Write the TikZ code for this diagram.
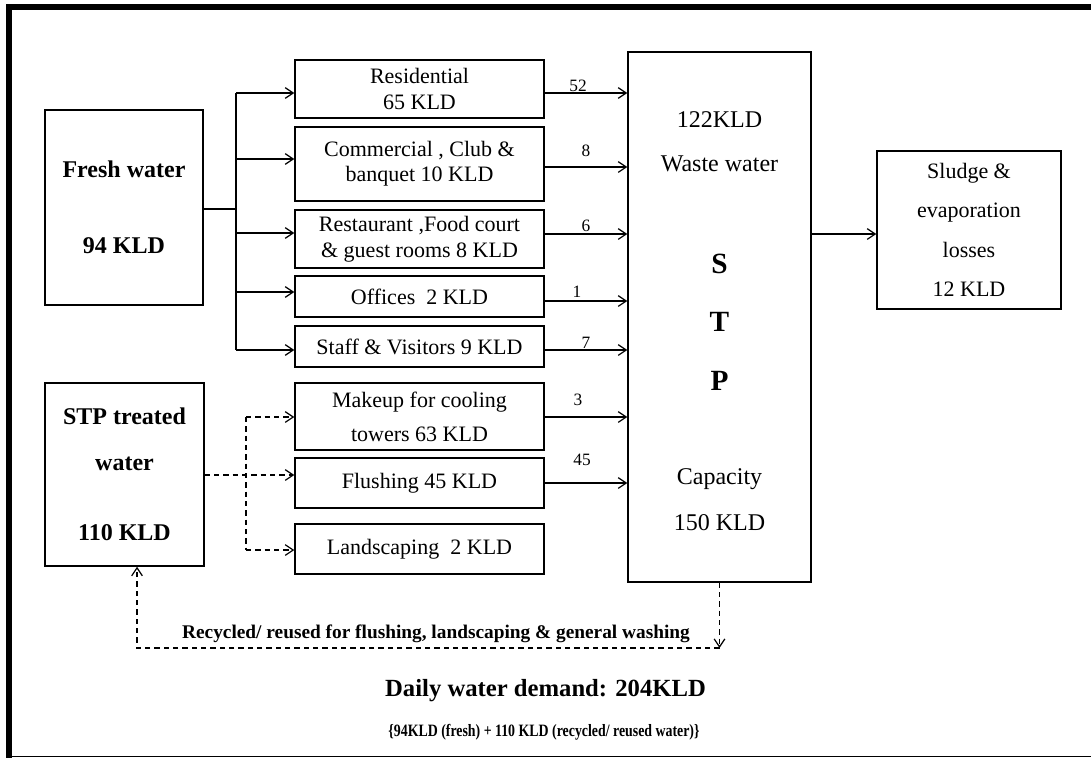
\documentclass[tikz,border=0pt]{standalone}
\usepackage{fontspec}
\setmainfont{Liberation Serif}
\usetikzlibrary{arrows.meta}
\def\u{0.75pt}
\begin{document}
\begin{tikzpicture}[x=0.75pt,y=-0.75pt,
  box/.style={draw,line width=1.1pt,inner sep=0pt,align=center},
  conn/.style={line width=0.9pt},
  arr/.style={conn,-{Straight Barb[length=6pt,width=8pt]}},
  dconn/.style={conn,dash pattern=on 4pt off 3pt},
  darr/.style={dconn,-{Straight Barb[length=6pt,width=8pt]}},
  mid/.style={font=\fontsize{16.5}{20}\selectfont},
  num/.style={font=\fontsize{13}{15}\selectfont,inner sep=0pt},
  plain/.style={inner sep=0pt,align=center}
]
\useasboundingbox (0,0) rectangle (1091,758);
% frame
\fill (6,4) rectangle (1091,10);
\fill (6,4) rectangle (12,757.5);
\draw[line width=1.1pt] (6,756.5) -- (1091,756.5);

% source boxes
\node[box,font=\fontsize{18}{57}\selectfont\bfseries,minimum width=158*\u,minimum height=195*\u] (fresh) at (124,207.5) {Fresh water\\94 KLD};
\node[box,font=\fontsize{18}{34.5}\selectfont\bfseries,minimum width=159*\u,minimum height=183*\u] (treated) at (124.5,474.5) {STP treated\\water\\[18pt]110 KLD};

% use boxes
\node[box,mid,minimum width=249*\u,minimum height=58*\u] (res) at (419.5,89) {Residential\\65 KLD};
\node[box,font=\fontsize{16.5}{19}\selectfont,minimum width=249*\u,minimum height=74*\u] (com) at (419.5,164) {Commercial , Club \&\\banquet 10 KLD};
\node[box,font=\fontsize{16.5}{19.5}\selectfont,minimum width=249*\u,minimum height=58*\u] (rest) at (419.5,239) {Restaurant ,Food court\\\& guest rooms 8 KLD};
\node[box,mid,minimum width=249*\u,minimum height=41*\u] (off) at (419.5,296.5) {Offices\ \ 2 KLD};
\node[box,mid,minimum width=249*\u,minimum height=41*\u] (staff) at (419.5,346.5) {Staff \& Visitors 9 KLD};
\node[box,font=\fontsize{16.5}{25.5}\selectfont,minimum width=249*\u,minimum height=67*\u] (make) at (419.5,416.5) {Makeup for cooling\\towers 63 KLD};
\node[box,mid,minimum width=249*\u,minimum height=50*\u] (flush) at (419.5,483) {Flushing 45 KLD};
\node[box,mid,minimum width=249*\u,minimum height=50*\u] (land) at (419.5,549) {Landscaping\ \ 2 KLD};

% STP
\node[box,minimum width=183*\u,minimum height=530*\u] (stp) at (719.5,317) {};
\node[plain,font=\fontsize{18}{33}\selectfont] (stpin) at (719.5,142) {122KLD\\Waste water};
\node[plain,font=\fontsize{22}{44}\selectfont\bfseries] (stpname) at (719.5,322) {S\\T\\P};
\node[plain,font=\fontsize{18}{34}\selectfont] (stpcap) at (719.5,499.5) {Capacity\\150 KLD};

% sludge
\node[box,font=\fontsize{16.5}{29.5}\selectfont,minimum width=184*\u,minimum height=158*\u] (sludge) at (969,230) {Sludge \&\\evaporation\\losses\\12 KLD};

% fresh water distribution
\coordinate (fj) at (236,209);
\coordinate (f1) at (236,93);
\coordinate (f2) at (236,159);
\coordinate (f3) at (236,233);
\coordinate (f4) at (236,292);
\coordinate (f5) at (236,350);
\draw[conn] (fresh.east |- fj) -- (fj);
\draw[conn] (f1) -- (f5);
\draw[arr] (f1) -- (res.west |- f1);
\draw[arr] (f2) -- (com.west |- f2);
\draw[arr] (f3) -- (rest.west |- f3);
\draw[arr] (f4) -- (off.west |- f4);
\draw[arr] (f5) -- (staff.west |- f5);

% treated water distribution
\coordinate (dj) at (246,475);
\coordinate (dt) at (246,417);
\coordinate (db) at (246,550);
\draw[darr] (treated.east |- dj) -- (flush.west |- dj);
\draw[dconn] (dt) -- (db);
\draw[darr] (dt) -- (make.west |- dt);
\draw[darr] (db) -- (land.west |- db);

% waste water to STP
\coordinate (w1) at (628,93);
\coordinate (w2) at (628,167);
\coordinate (w3) at (628,234);
\coordinate (w4) at (628,301);
\coordinate (w5) at (628,350);
\coordinate (w6) at (628,417);
\coordinate (w7) at (628,483);
\draw[arr] (res.east |- w1) -- (stp.west |- w1);
\draw[arr] (com.east |- w2) -- (stp.west |- w2);
\draw[arr] (rest.east |- w3) -- (stp.west |- w3);
\draw[arr] (off.east |- w4) -- (stp.west |- w4);
\draw[arr] (staff.east |- w5) -- (stp.west |- w5);
\draw[arr] (make.east |- w6) -- (stp.west |- w6);
\draw[arr] (flush.east |- w7) -- (stp.west |- w7);
\node[num] (n1) at (578,86) {52};
\node[num] (n2) at (586,151) {8};
\node[num] (n3) at (586,226) {6};
\node[num] (n4) at (577,292) {1};
\node[num] (n5) at (586,342.5) {7};
\node[num] (n6) at (578,400) {3};
\node[num] (n7) at (582,460) {45};

% STP to sludge
\coordinate (sa) at (811,234);
\draw[arr] (stp.east |- sa) -- (sludge.west |- sa);

% recycle loop
\coordinate (rc) at (719.5,648);
\coordinate (rl) at (137,648);
\draw[darr] (stp.south) -- (rc);
\draw[darr] (rc) -- (rl) -- (rl |- treated.south);
\node[plain,font=\fontsize{14.5}{17}\selectfont\bfseries] (rec) at (436,634) {Recycled/ reused for flushing, landscaping \& general washing};

% totals
\node[plain,font=\fontsize{18.5}{22}\selectfont\bfseries] (daily) at (545.5,691) {Daily water demand: 204KLD};
\node[plain,font=\fontsize{13}{15}\selectfont\bfseries] (split) at (544,732) {\scalebox{0.8}[1]{\{94KLD (fresh) + 110 KLD (recycled/ reused water)\}}};
\end{tikzpicture}
\end{document}
